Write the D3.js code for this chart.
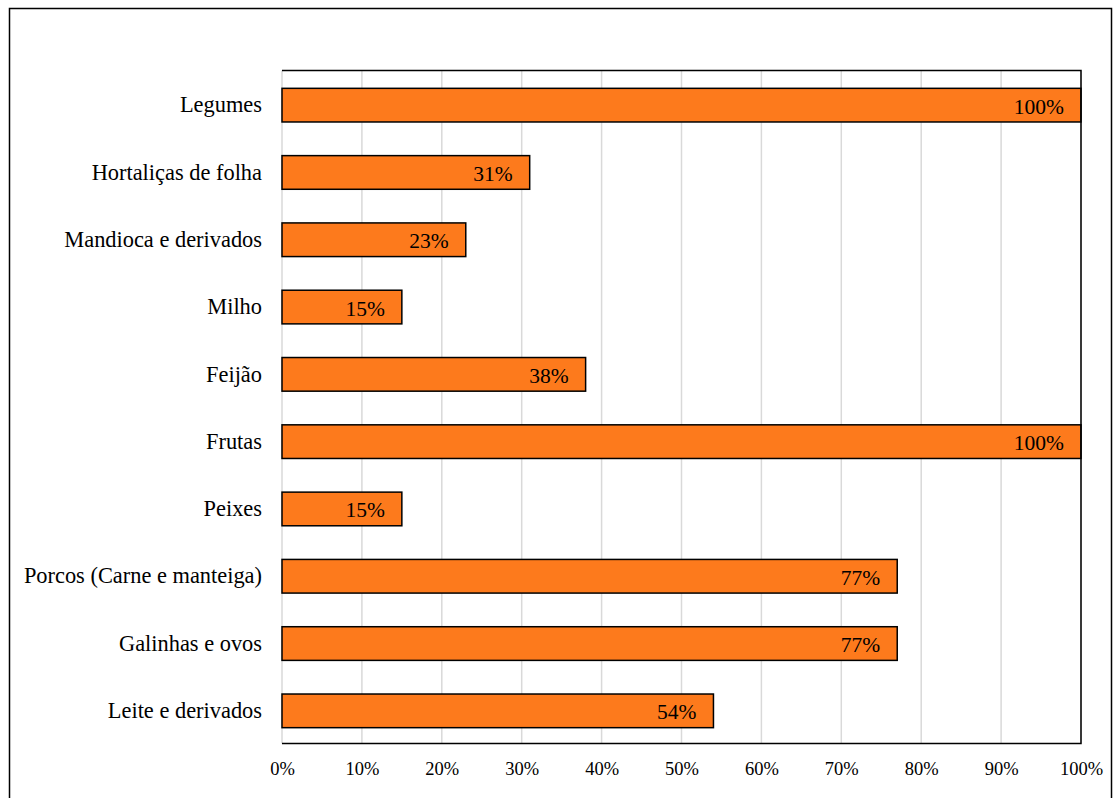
<!DOCTYPE html>
<html><head><meta charset="utf-8">
<script src="https://cdn.jsdelivr.net/npm/d3@7"></script>
<style>body{margin:0;background:#fff;} svg{display:block;} svg text{font-family:"Liberation Serif","Times New Roman",serif;}</style>
</head><body>
<svg id="c" width="1120" height="798"></svg>
<script>
const categories = ["Legumes","Hortaliças de folha","Mandioca e derivados","Milho","Feijão","Frutas","Peixes","Porcos (Carne e manteiga)","Galinhas e ovos","Leite e derivados"];
const values = [100,31,23,15,38,100,15,77,77,54];
const ticks = [0,10,20,30,40,50,60,70,80,90,100];

const svg = d3.select("#c");
const font = "Liberation Serif";
const L=282, R=1081, T=70.5, B=743.5;
svg.append("rect").attr("x",9.5).attr("y",8.5).attr("width",1102).attr("height",800)
  .attr("fill","#fff").attr("stroke","#000").attr("stroke-width",1.5);
const x = d3.scaleLinear().domain([0,100]).range([L,R]);
const y = d3.scaleBand().domain(categories).range([T,B]).paddingInner(0.5).paddingOuter(0.25);

svg.append("g").selectAll("line").data(ticks).join("line")
  .attr("x1",d=>x(d)).attr("x2",d=>x(d)).attr("y1",T).attr("y2",B)
  .attr("stroke","#d9d9d9").attr("stroke-width",1.5);

svg.append("g").selectAll("rect").data(values).join("rect")
  .attr("x",x(0)).attr("y",(d,i)=>y(categories[i])+1)
  .attr("width",d=>x(d)-x(0)).attr("height",y.bandwidth())
  .attr("fill","#FD7A1C").attr("stroke","#000").attr("stroke-width",1.5);

svg.append("g").selectAll("text").data(values).join("text")
  .attr("x",d=>x(d)-17).attr("y",(d,i)=>y(categories[i])+2+y.bandwidth()/2)
  .attr("dy","0.35em").attr("text-anchor","end")
  .style("font-family",font).style("font-size","21.5px").attr("fill","#000")
  .text(d=>d+"%");

svg.append("path").attr("d",`M${L},${T}H${R}V${B}H${L}`).attr("fill","none").attr("stroke","#000").attr("stroke-width",1.5);

const ya = svg.append("g").attr("transform",`translate(${L},1)`)
  .call(d3.axisLeft(y).tickSize(0).tickPadding(20));
ya.select(".domain").remove();
ya.selectAll("text").style("font-family",font).style("font-size","22.4px").attr("fill","#000");

const xa = svg.append("g").attr("transform",`translate(0,${B})`)
  .call(d3.axisBottom(x).tickValues(ticks).tickSize(0).tickPadding(18).tickFormat(d=>d+"%"));
xa.select(".domain").remove();
xa.selectAll("text").style("font-family",font).style("font-size","18.5px").attr("fill","#000");
</script>
</body></html>
